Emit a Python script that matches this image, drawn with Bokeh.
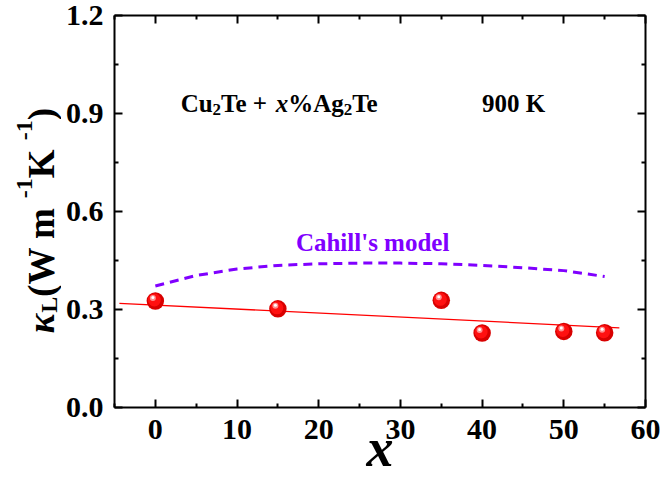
import numpy as np
from bokeh.plotting import figure
from bokeh.layouts import row
from bokeh.models import Range1d, LinearAxis, FixedTicker, PrintfTickFormatter, Label
from bokeh.core.properties import value
from bokeh.embed import file_html
from bokeh.resources import INLINE

# Lattice thermal conductivity of Cu2Te + x% Ag2Te at 900 K
x_pct = [0, 15, 35, 40, 50, 55]
kappa_L = [0.326, 0.302, 0.328, 0.228, 0.233, 0.229]

# linear trend through the measured points
fit_x = [-4.4, 56.8]
fit_y = [0.319, 0.244]

# Cahill's minimum thermal conductivity model
cahill_x = [0, 5, 10, 15, 20, 25, 30, 35, 40, 45, 50, 55]
cahill_y = [0.372, 0.404, 0.424, 0.435, 0.440, 0.442, 0.442, 0.440, 0.435, 0.428, 0.419, 0.401]

x_ticks = [0, 10, 20, 30, 40, 50, 60]
x_minor = [-5, 5, 15, 25, 35, 45, 55]
y_ticks = [0.0, 0.3, 0.6, 0.9, 1.2]
y_minor = [0.15, 0.45, 0.75, 1.05]

SERIF = "Liberation Serif"
PURPLE = "#8000FF"
H_TOTAL = 477
FRAME_W, FRAME_H = 531, 392
TOP, BOTTOM = 15, 70
LAB_W = 61  # strip on the left that carries the rotated y title

p = figure(frame_width=FRAME_W, frame_height=FRAME_H,
           x_range=Range1d(-5, 60), y_range=Range1d(0, 1.2),
           toolbar_location=None, output_backend="svg",
           min_border_left=114 - LAB_W, min_border_right=17,
           min_border_top=TOP, min_border_bottom=BOTTOM)
p.grid.visible = False
p.outline_line_color = None
p.background_fill_color = "white"
p.border_fill_color = "white"


def style_axis(ax, ticks, minor, show_labels):
    ax.ticker = FixedTicker(ticks=ticks, minor_ticks=minor)
    ax.axis_line_width = 2
    ax.axis_line_color = "black"
    ax.major_tick_in = 8
    ax.major_tick_out = 0
    ax.minor_tick_in = 4
    ax.minor_tick_out = 0
    ax.major_tick_line_width = 2
    ax.minor_tick_line_width = 2
    ax.major_label_text_font = SERIF
    ax.major_label_text_font_style = "bold"
    ax.major_label_text_color = "black"
    if show_labels:
        ax.major_label_text_font_size = "30px"
    else:
        ax.major_label_text_font_size = "1px"
        ax.major_label_text_alpha = 0
        ax.major_label_standoff = 0


style_axis(p.xaxis[0], x_ticks, x_minor, True)
style_axis(p.yaxis[0], y_ticks, y_minor, True)
p.xaxis[0].major_label_standoff = 12
p.yaxis[0].major_label_standoff = 11
p.yaxis[0].formatter = PrintfTickFormatter(format="%.1f")

# x title sits partly beside the tick labels
p.xaxis[0].axis_label = "x"
p.xaxis[0].axis_label_text_font = SERIF
p.xaxis[0].axis_label_text_font_style = "bold italic"
p.xaxis[0].axis_label_text_font_size = "54px"
p.xaxis[0].axis_label_text_color = "black"
p.xaxis[0].axis_label_standoff = -24

top_ax = LinearAxis()
right_ax = LinearAxis()
style_axis(top_ax, x_ticks, x_minor, False)
style_axis(right_ax, y_ticks, y_minor, False)
p.add_layout(top_ax, "above")
p.add_layout(right_ax, "right")

# curves
p.line(cahill_x, cahill_y, line_color=PURPLE, line_width=3, line_dash="9 6")
p.line(fit_x, fit_y, line_color="#FF0000", line_width=1.3)

# shaded spheres for the data points
px_x = 65.0 / FRAME_W
px_y = 1.2 / FRAME_H
xs = np.array(x_pct, dtype=float)
ys = np.array(kappa_L, dtype=float)
p.scatter(xs, ys, size=17.5, fill_color="#D80000", line_color=None)
p.scatter(xs - 1.0 * px_x, ys + 1.0 * px_y, size=13, fill_color="#FF1010", line_color=None)
p.scatter(xs - 2.5 * px_x, ys + 3.0 * px_y, size=6, fill_color="#FF9090", line_color=None)
p.scatter(xs - 2.5 * px_x, ys + 3.5 * px_y, size=3, fill_color="white", line_color=None)

# annotations inside the frame
p.add_layout(Label(x=26.6, y=0.463, text="Cahill's model", text_align="center",
                   text_color=PURPLE, text_font=SERIF, text_font_style="bold",
                   text_font_size="25px"))

FS = 25
SUB = 17
pieces = [("Cu", "bold", FS, 0), ("2", "bold", SUB, -6), ("Te + ", "bold", FS, 0),
          ("x", "bold italic", FS, 0), ("%Ag", "bold", FS, 0), ("2", "bold", SUB, -6),
          ("Te", "bold", FS, 0)]
widths = [1.278 * FS, 0.5 * SUB, 2.181 * FS, 0.5 * FS, 2.222 * FS, 0.5 * SUB, 1.111 * FS]
off = 0.0
for (txt, style, size, dy), w in zip(pieces, widths):
    p.add_layout(Label(x=3.1, y=0.932, x_offset=off, y_offset=dy, text=txt,
                       text_align="left", text_baseline="alphabetic",
                       text_font=SERIF, text_font_style=style,
                       text_font_size=f"{size}px", text_color="black"))
    off += w

p.add_layout(Label(x=40.0, y=0.932, text="900 K", text_align="left",
                   text_baseline="alphabetic", text_font=SERIF, text_font_style="bold",
                   text_font_size="25px", text_color="black"))

# left strip: rotated y title built piece by piece (y in page pixels from the bottom)
ylab = figure(frame_width=LAB_W, frame_height=FRAME_H,
              x_range=Range1d(0, LAB_W), y_range=Range1d(H_TOTAL - TOP - FRAME_H, H_TOTAL - TOP),
              toolbar_location=None, output_backend="svg", x_axis_type=None, y_axis_type=None,
              min_border_left=0, min_border_right=0, min_border_top=TOP,
              min_border_bottom=BOTTOM)
ylab.grid.visible = False
ylab.outline_line_color = None
ylab.background_fill_color = "white"
ylab.border_fill_color = "white"

YF = 37
SF = 24
BASE_X = 41
ypieces = [("κ", "bold italic", YF, 0, 0.55 * YF), ("L", "bold", SF, 7, 0.667 * SF),
           (" (W m", "bold", YF, 0, 2.666 * YF), ("-1", "bold", SF, -17, 0.833 * SF),
           (" K", "bold", YF, 0, 1.028 * YF), ("-1", "bold", SF, -17, 0.833 * SF),
           (")", "bold", YF, 0, 0.333 * YF)]
total = sum(w for *_, w in ypieces)
pos = (H_TOTAL - 220) - total / 2.0
for txt, style, size, dx, w in ypieces:
    ylab.text(x=[BASE_X + dx], y=[pos], text=[txt], angle=np.pi / 2,
              text_align="left", text_baseline="alphabetic",
              text_font=value(SERIF), text_font_style=style,
              text_font_size=value(f"{size}px"), text_color="black")
    pos += w

layout = row(ylab, p, spacing=0)
open("out.html", "w").write(file_html(layout, INLINE))
